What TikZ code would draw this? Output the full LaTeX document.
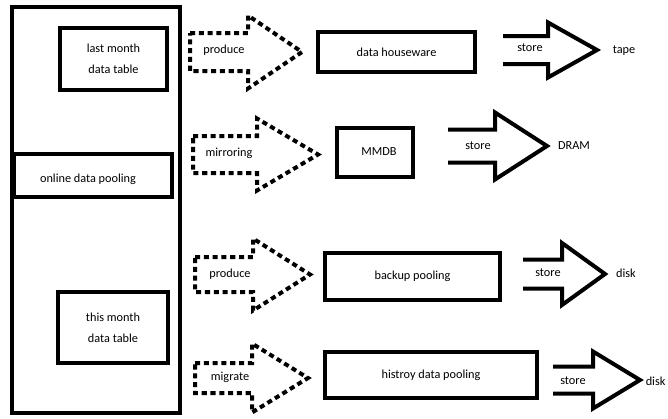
\documentclass[tikz,border=0pt]{standalone}
\usepackage{fontspec}
\setmainfont{Carlito}
\usetikzlibrary{fit}
\tikzset{
  box/.style={draw=black, line width=3pt, inner sep=0pt},
  txt/.style={font=\fontsize{9.2}{16}\selectfont, align=center, inner sep=1pt},
  dasharrow/.style={draw=black, line width=3pt, dash pattern=on 3.8pt off 2.8pt},
  solidarrow/.style={draw=black, line width=3pt, line join=miter}
}
% #1 style, #2 left, #3 head base, #4 tip, #5 centre y, #6 shaft half, #7 head half
\newcommand{\closedarrow}[7]{\draw[#1] (#2,#5-#6) -- (#3,#5-#6) -- (#3,#5-#7) -- (#4,#5) -- (#3,#5+#7) -- (#3,#5+#6) -- (#2,#5+#6) -- cycle;}
\newcommand{\openarrow}[7]{\draw[#1] (#2,#5-#6) -- (#3,#5-#6) -- (#3,#5-#7) -- (#4,#5) -- (#3,#5+#7) -- (#3,#5+#6) -- (#2,#5+#6);}
\begin{document}
\begin{tikzpicture}[x=0.75pt, y=-0.75pt]
\useasboundingbox (0,0) rectangle (668,418);
\clip (0,0) rectangle (668,418);

% Left column
\node (outer) [box, fit={(12,7) (180,413)}] {};
\node (lastbox) [box, fit={(60,28) (167,90)}] {};
\node (lasttxt) [txt] at (lastbox) {last month\\data table};
\node (onlinebox) [box, fit={(14,154) (172,197)}] {};
\node (onlinetxt) [txt] at (88,179) {online data pooling};
\node (thisbox) [box, fit={(58,292) (168,363)}] {};
\node (thistxt) [txt] at (thisbox) {this month\\data table};

% Dashed arrows
\closedarrow{dasharrow}{190}{248}{302}{52}{19}{36.5}
\closedarrow{dasharrow}{193}{257}{318}{154.5}{18.5}{36}
\closedarrow{dasharrow}{195}{253}{310}{274.5}{17.5}{36}
\closedarrow{dasharrow}{195}{252}{308}{378}{15}{34.5}
\node (produceA) [txt] at (224,50) {produce};
\node (mirror) [txt] at (229,153) {mirroring};
\node (produceB) [txt] at (230,274) {produce};
\node (migrate) [txt] at (230,377) {migrate};

% Middle boxes
\node (house) [box, fit={(318,32) (475,72)}] {};
\node (housetxt) [txt] at (house) {data houseware};
\node (mmdb) [box, fit={(337,128) (413,177)}] {};
\node (mmdbtxt) [txt] at (379,152) {MMDB};
\node (backup) [box, fit={(325,253) (500,300)}] {};
\node (backuptxt) [txt] at (backup) {backup pooling};
\node (hist) [box, fit={(325,352) (537,398)}] {};
\node (histtxt) [txt] at (hist) {histroy data pooling};

% Store arrows
\openarrow{solidarrow}{503}{548}{597}{50}{14}{27.5}
\openarrow{solidarrow}{448}{495}{547}{146}{16.5}{33.5}
\openarrow{solidarrow}{523}{562}{605}{274}{14.5}{31}
\openarrow{solidarrow}{553}{593}{640}{380}{13.5}{28.5}
\node (storeA) [txt] at (530,48) {store};
\node (storeB) [txt] at (478,146) {store};
\node (storeC) [txt] at (548,273) {store};
\node (storeD) [txt] at (573,381) {store};

% Media
\node (tape) [txt] at (624,51) {tape};
\node (dram) [txt] at (574,146) {DRAM};
\node (diskA) [txt] at (626,273) {disk};
\node (diskB) [txt, anchor=east] at (667,381) {disk};
\end{tikzpicture}
\end{document}
